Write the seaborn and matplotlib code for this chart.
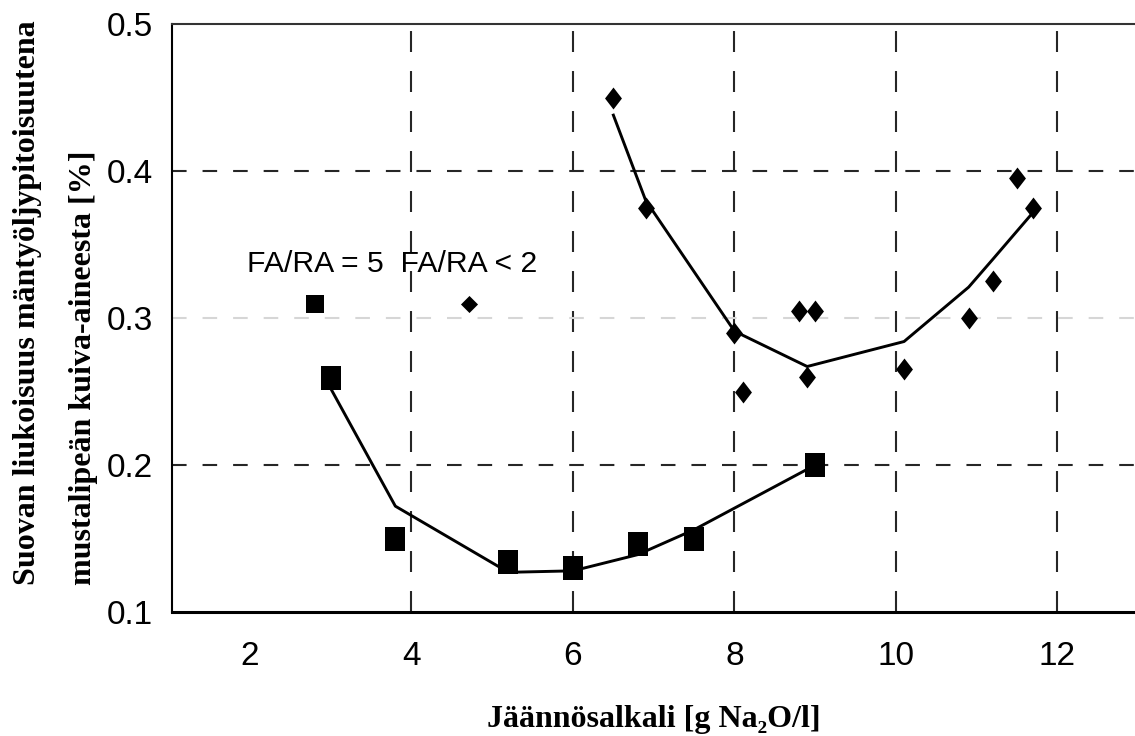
import matplotlib
matplotlib.use("Agg")
import matplotlib.pyplot as plt
from matplotlib import font_manager
from matplotlib.path import Path
from matplotlib.lines import Line2D
import seaborn as sns
import pandas as pd

# ---------------- data ----------------
sq_x = [3.0, 3.8, 5.2, 6.0, 6.8, 7.5, 9.0]
sq_y = [0.259, 0.150, 0.134, 0.130, 0.146, 0.150, 0.200]
sq_fit_x = [3.0, 3.8, 5.2, 6.0, 6.8, 7.5, 9.0]
sq_fit_y = [0.252, 0.172, 0.127, 0.128, 0.139, 0.156, 0.200]

dia_x = [6.5, 6.9, 8.0, 8.1, 8.8, 8.9, 9.0, 10.1, 10.9, 11.2, 11.5, 11.7]
dia_y = [0.450, 0.375, 0.290, 0.250, 0.305, 0.260, 0.305, 0.265, 0.300, 0.325, 0.395, 0.375]
dia_fit_x = [6.5, 6.9, 8.0, 8.9, 10.1, 10.9, 11.2, 11.7]
dia_fit_y = [0.438, 0.380, 0.291, 0.267, 0.284, 0.321, 0.340, 0.372]

x_ticks = [2, 4, 6, 8, 10, 12]
y_ticks = [0.1, 0.2, 0.3, 0.4, 0.5]
y_tick_labels = ["0.1", "0.2", "0.3", "0.4", "0.5"]

legend_title = "FA/RA = 5  FA/RA < 2"
x_label = "Jäännösalkali [g Na₂O/l]"
y_label = "Suovan liukoisuus mäntyöljypitoisuutena\nmustalipeän kuiva-aineesta [%]"

# ---------------- fonts ----------------
available = {f.name for f in font_manager.fontManager.ttflist}
if "Liberation Sans Narrow" in available:
    tick_font, tick_size = "Liberation Sans Narrow", 28.5
else:
    tick_font, tick_size = "Liberation Sans", 24
plt.rcParams["lines.scale_dashes"] = False

sq_df = pd.DataFrame({"x": sq_x, "y": sq_y})
sq_fit = pd.DataFrame({"x": sq_fit_x, "y": sq_fit_y})
dia_df = pd.DataFrame({"x": dia_x, "y": dia_y})
dia_fit = pd.DataFrame({"x": dia_fit_x, "y": dia_fit_y})

# marker shapes (slightly tall, as in the reference)
rect_marker = Path([(-0.79, -1), (0.79, -1), (0.79, 1), (-0.79, 1), (-0.79, -1)],
                   [Path.MOVETO, Path.LINETO, Path.LINETO, Path.LINETO, Path.CLOSEPOLY])
dia_marker = Path([(0, -1), (0.77, 0), (0, 1), (-0.77, 0), (0, -1)],
                  [Path.MOVETO, Path.LINETO, Path.LINETO, Path.LINETO, Path.CLOSEPOLY])

fig = plt.figure(figsize=(11.35, 7.36), dpi=100)
ax = fig.add_axes([172 / 1135, 124 / 736, 963 / 1135, 588 / 736])

sns.lineplot(data=sq_fit, x="x", y="y", color="black", lw=2.1, estimator=None,
             sort=False, ax=ax, zorder=2)
sns.lineplot(data=dia_fit, x="x", y="y", color="black", lw=2.1, estimator=None,
             sort=False, ax=ax, zorder=2)
sns.scatterplot(data=sq_df, x="x", y="y", marker=rect_marker, s=300, color="black",
                linewidth=0, ax=ax, zorder=3)
sns.scatterplot(data=dia_df, x="x", y="y", marker=dia_marker, s=250, color="black",
                linewidth=0, ax=ax, zorder=3)

ax.set_xlim(1.034, 12.96)
ax.set_ylim(0.1, 0.5)
ax.set_xticks(x_ticks)
ax.set_xticklabels([str(v) for v in x_ticks])
ax.set_yticks(y_ticks)
ax.set_yticklabels(y_tick_labels)

ax.set_axisbelow(True)
ax.grid(True)
for line, v in zip(ax.xaxis.get_gridlines(), x_ticks):
    if v == 2:
        line.set_visible(False)
    else:
        line.set_color("#262626")
        line.set_linewidth(1.5)
        line.set_dashes((15.1, 13.7))
for line, v in zip(ax.yaxis.get_gridlines(), y_ticks):
    if v in (0.1, 0.5):
        line.set_visible(False)
    elif abs(v - 0.3) < 1e-9:
        line.set_color("#d6d6d6")
        line.set_linewidth(1.5)
        line.set_dashes((10.5, 11.5))
    else:
        line.set_color("#262626")
        line.set_linewidth(1.5)
        line.set_dashes((10.5, 11.5))

for side in ("left", "bottom", "top"):
    ax.spines[side].set_color("black")
ax.spines["left"].set_linewidth(1.5)
ax.spines["bottom"].set_linewidth(2.2)
ax.spines["top"].set_linewidth(1.5)
ax.spines["top"].set_color("#333333")
ax.spines["right"].set_visible(False)

ax.tick_params(axis="both", length=0, labelsize=tick_size, labelfontfamily=tick_font,
               labelcolor="black")
ax.tick_params(axis="y", pad=14)
ax.tick_params(axis="x", pad=21)

ax.set_ylabel(y_label, family=["Liberation Serif", "DejaVu Serif"], fontweight="bold",
              fontsize=23, multialignment="left", linespacing=2.2)
ax.yaxis.set_label_coords(-0.077, 0.526)
ax.set_xlabel(x_label, family=["Liberation Serif", "DejaVu Serif"], fontweight="bold",
              fontsize=23)
ax.xaxis.set_label_coords(0.5, -0.158)

handles = [
    Line2D([], [], ls="none", marker="s", ms=12.5, color="black", mew=0),
    Line2D([], [], ls="none", marker=[(0, -1), (1, 0), (0, 1), (-1, 0)], ms=12.3,
           color="black", mew=0),
]
leg = ax.legend(handles, ["", ""], title=legend_title, ncol=2, frameon=False,
                loc="upper center", bbox_to_anchor=(0.2285, 0.616), borderpad=0,
                borderaxespad=0, handlelength=1.0, handletextpad=0, columnspacing=4.31,
                fontsize=21, title_fontproperties={"family": "Liberation Sans", "size": 21.7})

fig.savefig("out.png", dpi=100)
